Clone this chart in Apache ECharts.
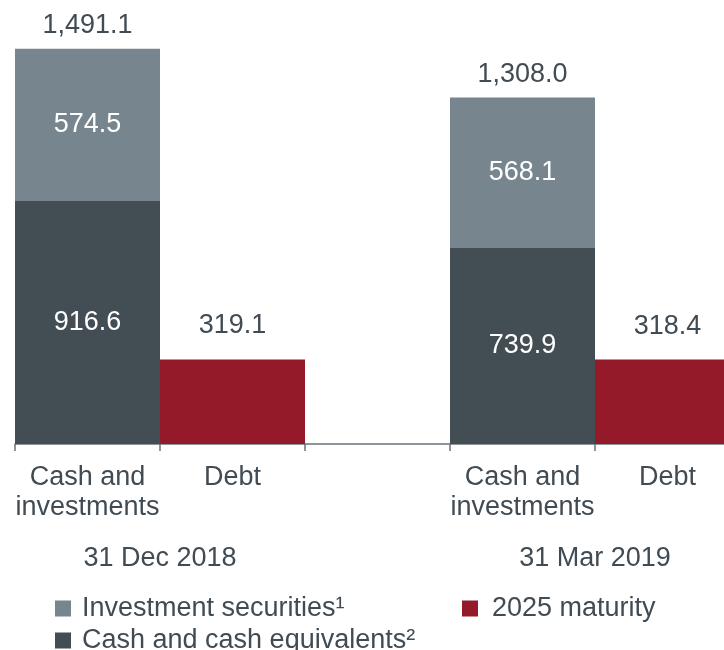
<!DOCTYPE html>
<html>
<head>
<meta charset="utf-8">
<script src="https://cdn.jsdelivr.net/npm/echarts@6/dist/echarts.min.js"></script>
<style>
  html, body { margin: 0; padding: 0; background: #fff; }
  #chart { width: 724px; height: 650px; }
</style>
</head>
<body>
<div id="chart"></div>
<script>
const categories = ['Cash and\ninvestments', 'Debt', '', 'Cash and\ninvestments', 'Debt']
const periodLabels = { 1: '31 Dec 2018', 4: '31 Mar 2019' }
const cashEquivalents = [916.6, '-', '-', 739.9, '-']
const investmentSecurities = [574.5, '-', '-', 568.1, '-']
const maturity2025 = ['-', 319.1, '-', '-', 318.4]
const totals = [1491.1, '-', '-', 1308.0, '-']

const FONT = "'Liberation Sans', Arial, sans-serif"
const TEXT = '#414b53'
const fmt = (v) => Number(v).toLocaleString('en-US', { minimumFractionDigits: 1, maximumFractionDigits: 1 })

const chart = echarts.init(document.getElementById('chart'))

const innerLabel = {
  show: true,
  position: 'inside',
  color: '#fff',
  fontSize: 27,
  fontFamily: FONT,
  formatter: (p) => fmt(p.value),
}

const legendItem = (name, left, top, gap) => ({
  data: [name],
  left,
  top,
  padding: 0,
  icon: 'rect',
  itemWidth: 16,
  itemHeight: 16,
  selectedMode: false,
  textStyle: { fontSize: 27, color: TEXT, fontFamily: FONT, padding: [0, 0, 0, gap] },
})

const option = {
  animation: false,
  textStyle: { fontFamily: FONT },
  grid: { left: 15, right: -16, top: 20, bottom: 206, outerBoundsMode: 'none', containLabel: false },
  legend: [
    legendItem('Investment securities¹', 55, 595, 6),
    legendItem('2025 maturity', 462, 595, 9),
    legendItem('Cash and cash equivalents²', 55, 627, 6),
  ],
  xAxis: [
    {
      type: 'category',
      data: categories,
      axisLine: { lineStyle: { color: '#68737b', width: 1.5 } },
      axisTick: { show: true, length: 7, lineStyle: { color: '#68737b', width: 1.5 } },
      axisLabel: {
        interval: 0,
        margin: 19,
        fontSize: 27,
        lineHeight: 30,
        color: TEXT,
        fontFamily: FONT,
      },
    },
    {
      type: 'value',
      position: 'bottom',
      min: 0,
      max: 5,
      interval: 1,
      offset: 93,
      axisLine: { show: false },
      axisTick: { show: false },
      splitLine: { show: false },
      axisLabel: {
        margin: 8,
        fontSize: 27,
        color: TEXT,
        fontFamily: FONT,
        showMinLabel: true,
        showMaxLabel: true,
        formatter: (v) => periodLabels[v] || '',
      },
    },
  ],
  yAxis: {
    type: 'value',
    min: 0,
    max: 1600,
    show: false,
    splitLine: { show: false },
  },
  series: [
    {
      name: 'Cash and cash equivalents²',
      type: 'bar',
      stack: 'cash',
      barWidth: '100%',
      barGap: '-100%',
      data: cashEquivalents,
      itemStyle: { color: '#434d54' },
      label: innerLabel,
    },
    {
      name: 'Investment securities¹',
      type: 'bar',
      stack: 'cash',
      barWidth: '100%',
      barGap: '-100%',
      data: investmentSecurities,
      itemStyle: { color: '#77858f' },
      label: innerLabel,
    },
    {
      name: '2025 maturity',
      type: 'bar',
      barWidth: '100%',
      barGap: '-100%',
      data: maturity2025,
      itemStyle: { color: '#941a29' },
      label: {
        show: true,
        position: 'top',
        distance: 20,
        color: TEXT,
        fontSize: 27,
        fontFamily: FONT,
        formatter: (p) => fmt(p.value),
      },
    },
    {
      name: 'Total',
      type: 'scatter',
      data: totals,
      symbolSize: 1,
      itemStyle: { color: 'rgba(255,255,255,0)', opacity: 1 },
      silent: true,
      z: 5,
      label: {
        show: true,
        position: 'top',
        distance: 9,
        color: TEXT,
        fontSize: 27,
        fontFamily: FONT,
        formatter: (p) => fmt(p.value),
      },
    },
  ],
}

chart.setOption(option)
</script>
</body>
</html>
